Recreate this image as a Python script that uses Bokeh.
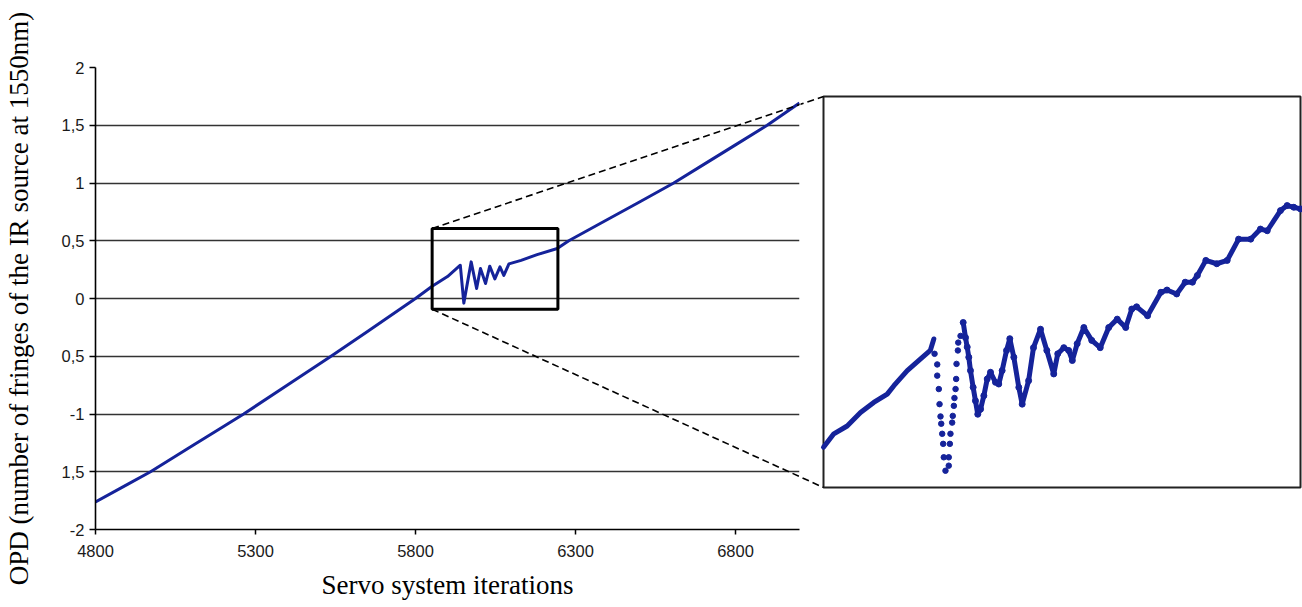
from bokeh.plotting import figure
from bokeh.layouts import row
from bokeh.models import Range1d, FixedTicker
from bokeh.embed import file_html
from bokeh.resources import INLINE

# ---------------- data ----------------
main_iter = [4800, 4900, 4972, 5100, 5200, 5263, 5400, 5536, 5650, 5800, 5852, 5900,
             5940, 5951, 5974, 5991, 6003, 6019, 6032, 6048, 6064, 6076, 6092, 6130,
             6180, 6243, 6279, 6400, 6500, 6607, 6700, 6800, 6899, 7000]
main_opd = [-1.761, -1.609, -1.50, -1.28, -1.108, -1.0, -0.749, -0.5, -0.285, 0.0, 0.106, 0.19,
            0.288, -0.04, 0.317, 0.087, 0.26, 0.13, 0.28, 0.17, 0.274, 0.20, 0.30, 0.33,
            0.38, 0.433, 0.5, 0.684, 0.836, 1.0, 1.159, 1.33, 1.5, 1.693]

inset_lead_x = [5852, 5860.5, 5871.5, 5882.5, 5893.4, 5904.5, 5910, 5921, 5932, 5940, 5942.9]
inset_lead_y = [-0.021, 0.003, 0.017, 0.041, 0.059, 0.074, 0.089, 0.116, 0.137, 0.152, 0.1725]

inset_drop_x = [5943.5, 5945.7, 5945.7, 5947.0, 5947.6, 5948.4, 5949.0, 5949.8, 5950.6, 5951.1,
                5952.5, 5955.2, 5955.2, 5956.1, 5956.6, 5958.0, 5958.5, 5959.4, 5959.9, 5960.8,
                5961.3, 5961.6, 5962.7, 5963.0, 5964.9]
inset_drop_y = [0.146, 0.127, 0.107, 0.083, 0.056, 0.034, 0.021, 0.003, -0.015, -0.039,
                -0.063, -0.054, -0.039, -0.015, 0.003, 0.023, 0.035, 0.053, 0.067, 0.083,
                0.101, 0.128, 0.152, 0.166, 0.178]

inset_tail_x = [5967.1, 5969.0, 5970.4, 5971.7, 5973.1, 5975.3, 5977.2, 5979.1, 5981.4, 5984.1,
                5986.9, 5989.6, 5993.7, 5996.4, 5999.2, 6002.8, 6005.5, 6008.8, 6012.9, 6015.7,
                6021, 6025, 6030.8, 6036, 6041.7, 6045, 6050, 6054, 6057, 6061,
                6066.5, 6073, 6080, 6087, 6094, 6101, 6106, 6110, 6119, 6130,
                6135, 6143, 6150, 6156, 6160, 6167, 6176, 6184.6, 6194, 6204,
                6212, 6217.6, 6228.5, 6234, 6239.5, 6245]
inset_tail_y = [0.202, 0.175, 0.158, 0.140, 0.116, 0.086, 0.062, 0.038, 0.047, 0.071,
                0.101, 0.113, 0.095, 0.092, 0.116, 0.152, 0.173, 0.140, 0.086, 0.056,
                0.098, 0.157, 0.190, 0.152, 0.110, 0.146, 0.157, 0.152, 0.134, 0.164,
                0.193, 0.170, 0.157, 0.193, 0.208, 0.193, 0.226, 0.230, 0.214, 0.256,
                0.260, 0.253, 0.274, 0.274, 0.286, 0.313, 0.307, 0.313, 0.351, 0.351,
                0.369, 0.366, 0.402, 0.411, 0.408, 0.405]

x_ticks = [4800, 5300, 5800, 6300, 6800]
y_ticks = [-2, -1.5, -1, -0.5, 0, 0.5, 1, 1.5, 2]
y_tick_labels = ["-2", "1,5", "-1", "0,5", "0", "0,5", "1", "1,5", "2"]

# zoom window (data units of the main chart)
zoom_x = [5852, 6245]
zoom_y = [-0.093, 0.606]

x_label = "Servo system iterations"
y_label = "OPD (number of fringes of the IR source at 1550nm)"

# ---------------- layout geometry (page pixels) ----------------
BLUE = "#15239a"
H = 607
MAIN_W, INSET_W = 800, 502
BL, BR, BT, BB = 95, 1, 67, 78
X0, X1, Y0, Y1 = 4800, 7000, -2, 2
fx0, fx1 = BL, MAIN_W - BR
fy0, fy1 = BT, H - BB

ix_page0 = MAIN_W
ix_page1 = ix_page0 + INSET_W
bx0, bx1, by0, by1 = 823, 1300, 96, 487  # inset box on the page


def main_to_page(x, y):
    return (fx0 + (x - X0) / (X1 - X0) * (fx1 - fx0),
            fy0 + (Y1 - y) / (Y1 - Y0) * (fy1 - fy0))


def page_to_main(px, py):
    return (X0 + (px - fx0) / (fx1 - fx0) * (X1 - X0),
            Y1 - (py - fy0) / (fy1 - fy0) * (Y1 - Y0))


sx = (bx1 - bx0) / (zoom_x[1] - zoom_x[0])
sy = (by1 - by0) / (zoom_y[1] - zoom_y[0])
ix_start = zoom_x[0] - (bx0 - ix_page0) / sx
ix_end = zoom_x[1] + (ix_page1 - bx1) / sx
iy_end = zoom_y[1] + (by0 - fy0) / sy
iy_start = zoom_y[0] - (fy1 - by1) / sy


def page_to_inset(px, py):
    return (ix_start + (px - ix_page0) / sx, iy_end - (py - fy0) / sy)


# ---------------- main chart ----------------
p = figure(width=MAIN_W, height=H, x_range=Range1d(X0, X1), y_range=Range1d(Y0, Y1),
           output_backend="svg", toolbar_location=None,
           min_border_left=BL, min_border_right=BR, min_border_top=BT, min_border_bottom=BB)
p.outline_line_color = None
p.background_fill_color = "white"

p.xgrid.visible = False
p.ygrid.ticker = FixedTicker(ticks=y_ticks)
p.ygrid.grid_line_color = "#333333"
p.ygrid.grid_line_width = 1.6

for ax in (p.xaxis[0], p.yaxis[0]):
    ax.axis_line_color = "black"
    ax.axis_line_width = 1.6
    ax.major_tick_line_color = "black"
    ax.major_tick_line_width = 1.5
    ax.major_tick_in = 0
    ax.minor_tick_line_color = None
    ax.major_label_text_font = "Liberation Sans"
    ax.major_label_text_font_size = "16.5px"
    ax.major_label_text_color = "#1a1a1a"
    ax.axis_label_text_font = "Liberation Serif"
    ax.axis_label_text_font_size = "27px"
    ax.axis_label_text_font_style = "normal"
    ax.axis_label_text_color = "black"

p.xaxis[0].ticker = FixedTicker(ticks=x_ticks)
p.xaxis[0].major_tick_out = 5
p.xaxis[0].major_label_standoff = 10
p.xaxis[0].axis_label = x_label
p.xaxis[0].axis_label_standoff = 10

p.yaxis[0].ticker = FixedTicker(ticks=y_ticks)
p.yaxis[0].major_label_overrides = {t: l for t, l in zip(y_ticks, y_tick_labels)}
p.yaxis[0].major_tick_out = 6
p.yaxis[0].major_label_standoff = 5
p.yaxis[0].axis_label = y_label
p.yaxis[0].axis_label_standoff = 25

p.line(main_iter, main_opd, line_color=BLUE, line_width=3, line_join="round")

# zoom rectangle
p.quad(left=[zoom_x[0]], right=[zoom_x[1]], bottom=[zoom_y[0]], top=[zoom_y[1]],
       fill_color=None, line_color="black", line_width=3)

# connector lines (main part)
top_end = page_to_main(bx0, by0)
bot_end = page_to_main(bx0, by1)
p.segment(x0=[zoom_x[0], zoom_x[0]], y0=[zoom_y[1], zoom_y[0]],
          x1=[top_end[0], bot_end[0]], y1=[top_end[1], bot_end[1]],
          line_color="black", line_width=1.6, line_dash="7 4")

# ---------------- inset ----------------
q = figure(width=INSET_W, height=H, x_range=Range1d(ix_start, ix_end),
           y_range=Range1d(iy_start, iy_end), output_backend="svg", toolbar_location=None,
           x_axis_location=None, y_axis_location=None,
           min_border_left=0, min_border_right=0, min_border_top=BT, min_border_bottom=BB)
q.outline_line_color = None
q.grid.visible = False

q.quad(left=[zoom_x[0]], right=[zoom_x[1]], bottom=[zoom_y[0]], top=[zoom_y[1]],
       fill_color="white", line_color="#222222", line_width=2)

rt = main_to_page(zoom_x[0], zoom_y[1])
rb = main_to_page(zoom_x[0], zoom_y[0])
st = page_to_inset(*rt)
sb = page_to_inset(*rb)
q.segment(x0=[st[0], sb[0]], y0=[st[1], sb[1]],
          x1=[zoom_x[0], zoom_x[0]], y1=[zoom_y[1], zoom_y[0]],
          line_color="black", line_width=1.6, line_dash="7 4")

q.line(inset_lead_x, inset_lead_y, line_color=BLUE, line_width=5, line_join="round", line_cap="round")
q.line(inset_tail_x, inset_tail_y, line_color=BLUE, line_width=5, line_join="round", line_cap="round")
q.scatter(inset_drop_x, inset_drop_y, marker="circle", size=5.5, fill_color=BLUE, line_color=BLUE)
q.scatter(inset_tail_x, inset_tail_y, marker="circle", size=6, fill_color=BLUE, line_color=BLUE)

layout = row(p, q)
open("out.html", "w").write(file_html(layout, INLINE))
